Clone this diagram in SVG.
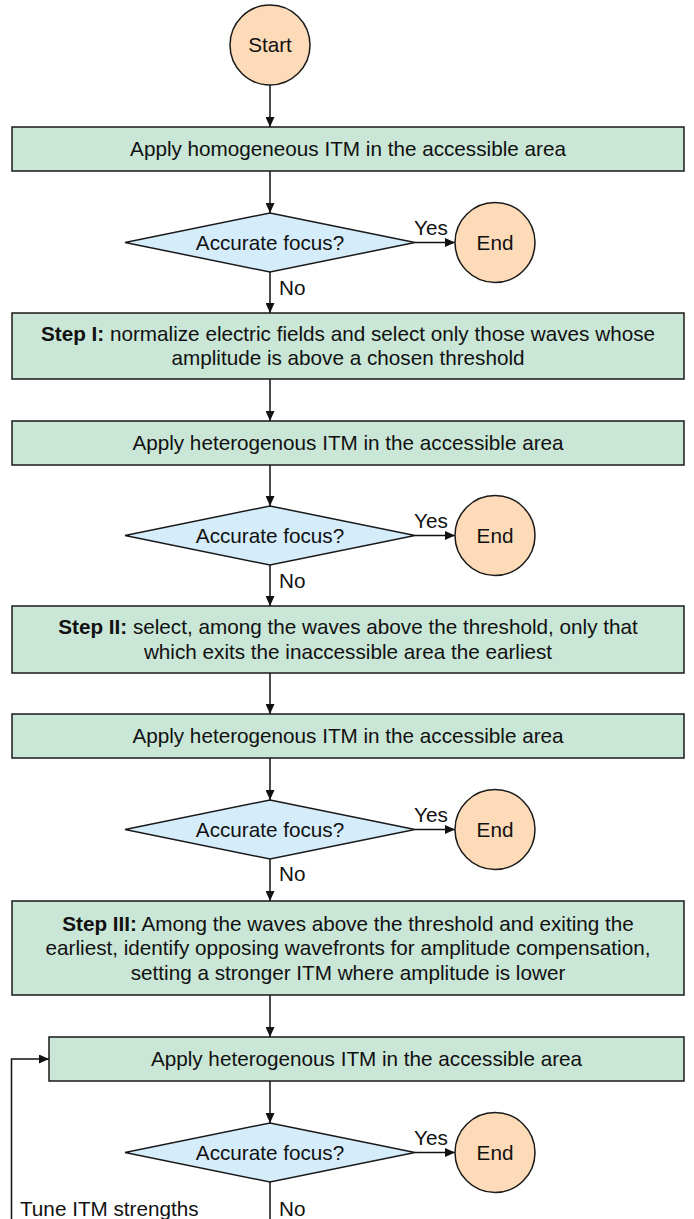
<svg xmlns="http://www.w3.org/2000/svg" width="694" height="1219" viewBox="0 0 694 1219">
<defs>
<style>
text{font-family:"Liberation Sans",Arial,Helvetica,sans-serif;font-size:20.7px;fill:#111}
.c{text-anchor:middle}
.b{font-weight:bold}
.proc{fill:#c9e6d6;stroke:#1a1a1a;stroke-width:1.5}
.dec{fill:#d5ecfb;stroke:#1a1a1a;stroke-width:1.5}
.term{fill:#fddbb8;stroke:#1a1a1a;stroke-width:1.5}
.conn{fill:none;stroke:#111;stroke-width:1.5}
</style>
<marker id="ah" markerUnits="userSpaceOnUse" markerWidth="11" markerHeight="9" refX="10" refY="4.5" orient="auto">
<path d="M0,0 L10,4.5 L0,9 z" fill="#111"/>
</marker>
</defs>

<g id="connectors">
<path class="conn" d="M270,85 V127" marker-end="url(#ah)"/>
<path class="conn" d="M270,171 V213" marker-end="url(#ah)"/>
<path class="conn" d="M415,242.5 H455" marker-end="url(#ah)"/>
<path class="conn" d="M270,272 V313" marker-end="url(#ah)"/>
<path class="conn" d="M270,379 V421" marker-end="url(#ah)"/>
<path class="conn" d="M270,465 V506" marker-end="url(#ah)"/>
<path class="conn" d="M415,535.5 H455" marker-end="url(#ah)"/>
<path class="conn" d="M270,565 V606" marker-end="url(#ah)"/>
<path class="conn" d="M270,673 V714" marker-end="url(#ah)"/>
<path class="conn" d="M270,758 V800" marker-end="url(#ah)"/>
<path class="conn" d="M415,829.5 H455" marker-end="url(#ah)"/>
<path class="conn" d="M270,859 V901" marker-end="url(#ah)"/>
<path class="conn" d="M270,995 V1037" marker-end="url(#ah)"/>
<path class="conn" d="M270,1081 V1123" marker-end="url(#ah)"/>
<path class="conn" d="M415,1152.5 H455" marker-end="url(#ah)"/>
<path class="conn" d="M270,1182 V1219"/>
<path class="conn" d="M11.5,1219 V1059 H49" marker-end="url(#ah)"/>
<text x="414" y="235">Yes</text>
<text x="414" y="528">Yes</text>
<text x="414" y="822">Yes</text>
<text x="414" y="1145">Yes</text>
<text x="279" y="295">No</text>
<text x="279" y="588">No</text>
<text x="279" y="881">No</text>
<text x="279" y="1216">No</text>
<text x="20" y="1216">Tune ITM strengths</text>
</g>

<g id="start">
<circle class="term" cx="270" cy="45" r="40"/>
<text class="c" x="270" y="52">Start</text>
</g>

<g id="apply-homogeneous">
<rect class="proc" x="12" y="127" width="672" height="44"/>
<text class="c" x="348" y="156">Apply homogeneous ITM in the accessible area</text>
</g>

<g id="decision-1">
<polygon class="dec" points="270,213 415,242.5 270,272 125,242.5"/>
<text class="c" x="270" y="250">Accurate focus?</text>
</g>
<g id="end-1">
<circle class="term" cx="495" cy="242.5" r="40"/>
<text class="c" x="495" y="250">End</text>
</g>

<g id="step-1">
<rect class="proc" x="12" y="313" width="672" height="66"/>
<text class="c" x="348" y="340.5"><tspan class="b">Step I:</tspan> normalize electric fields and select only those waves whose</text>
<text class="c" x="348" y="365">amplitude is above a chosen threshold</text>
</g>

<g id="apply-heterogeneous-1">
<rect class="proc" x="12" y="421" width="672" height="44"/>
<text class="c" x="348" y="450">Apply heterogenous ITM in the accessible area</text>
</g>

<g id="decision-2">
<polygon class="dec" points="270,506 415,535.5 270,565 125,535.5"/>
<text class="c" x="270" y="543">Accurate focus?</text>
</g>
<g id="end-2">
<circle class="term" cx="495" cy="535.5" r="40"/>
<text class="c" x="495" y="543">End</text>
</g>

<g id="step-2">
<rect class="proc" x="12" y="606" width="672" height="67"/>
<text class="c" x="348" y="634">
<tspan class="b">Step II:</tspan> select, among the waves above the threshold, only that</text>
<text class="c" x="348" y="658.5">which exits the inaccessible area the earliest</text>
</g>

<g id="apply-heterogeneous-2">
<rect class="proc" x="12" y="714" width="672" height="44"/>
<text class="c" x="348" y="743">Apply heterogenous ITM in the accessible area</text>
</g>

<g id="decision-3">
<polygon class="dec" points="270,800 415,829.5 270,859 125,829.5"/>
<text class="c" x="270" y="837">Accurate focus?</text>
</g>
<g id="end-3">
<circle class="term" cx="495" cy="829.5" r="40"/>
<text class="c" x="495" y="837">End</text>
</g>

<g id="step-3">
<rect class="proc" x="12" y="901" width="672" height="94"/>
<text class="c" x="348" y="930.5"><tspan class="b">Step III:</tspan> Among the waves above the threshold and exiting the</text>
<text class="c" x="348" y="955">earliest, identify opposing wavefronts for amplitude compensation,</text>
<text class="c" x="348" y="979.5">setting a stronger ITM where amplitude is lower</text>
</g>

<g id="apply-heterogeneous-3">
<rect class="proc" x="49" y="1037" width="635" height="44"/>
<text class="c" x="366.5" y="1066">Apply heterogenous ITM in the accessible area</text>
</g>

<g id="decision-4">
<polygon class="dec" points="270,1123 415,1152.5 270,1182 125,1152.5"/>
<text class="c" x="270" y="1160">Accurate focus?</text>
</g>
<g id="end-4">
<circle class="term" cx="495" cy="1152.5" r="40"/>
<text class="c" x="495" y="1160">End</text>
</g>
</svg>
